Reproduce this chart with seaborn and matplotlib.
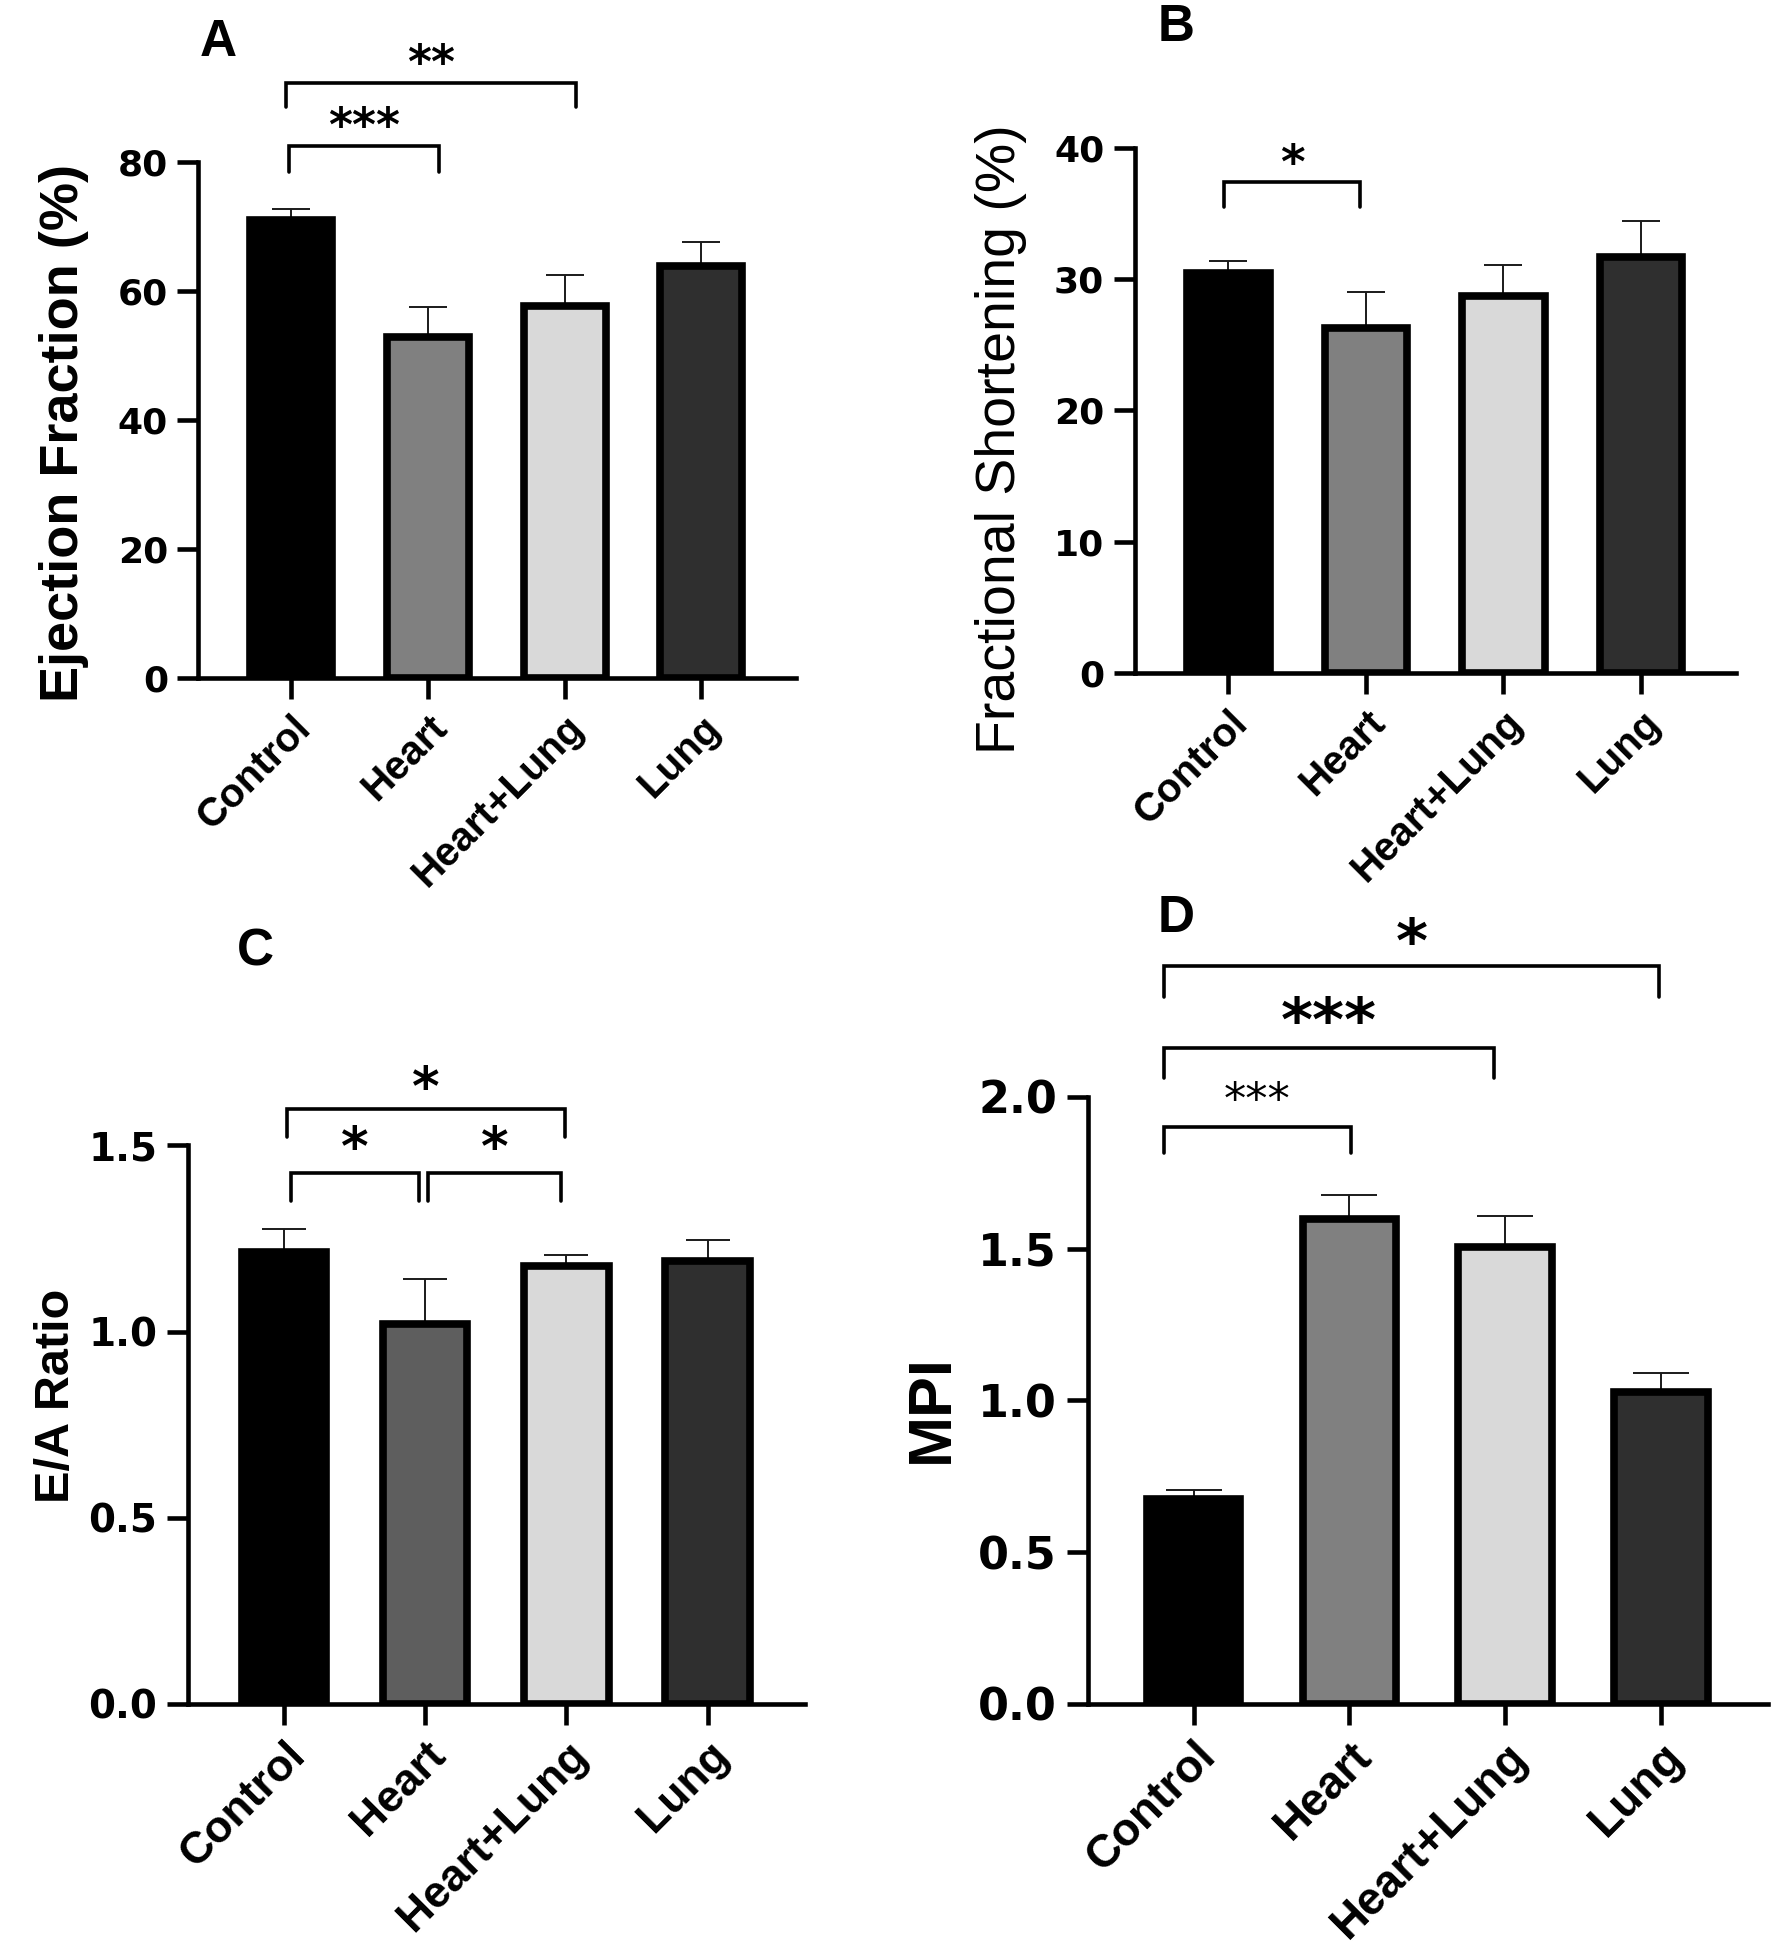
import numpy as np
import matplotlib.pyplot as plt
import seaborn as sns

# group names shared by all four panels
groups = ["Control", "Heart", "Heart+Lung", "Lung"]

# A: ejection fraction (%)
ef_mean = [70.9, 52.8, 57.7, 63.9]
ef_err = [1.7, 4.6, 4.8, 3.7]

# B: fractional shortening (%)
fs_mean = [30.5, 26.3, 28.7, 31.7]
fs_err = [0.9, 2.7, 2.4, 2.7]

# C: E/A ratio
ea_mean = [1.215, 1.02, 1.175, 1.19]
ea_err = [0.06, 0.12, 0.03, 0.055]

# D: MPI
mpi_mean = [0.676, 1.596, 1.506, 1.026]
mpi_err = [0.027, 0.079, 0.102, 0.063]

# significance brackets: (x1, x2, bar height, leg drop, label, label centre)
ef_sig = [(-0.02, 1.08, 82.4, 4.0, "***", 87.3),
          (-0.04, 2.08, 92.2, 3.8, "**", 97.1)]
fs_sig = [(-0.03, 0.96, 37.4, 1.9, "*", 39.8)]
ea_sig = [(0.05, 0.96, 1.426, 0.076, "*", 1.53),
          (1.02, 1.96, 1.426, 0.076, "*", 1.53),
          (0.02, 1.99, 1.598, 0.076, "*", 1.69)]
mpi_sig = [(-0.19, 1.01, 1.90, 0.085, "***", 2.03),
           (-0.19, 1.93, 2.162, 0.10, "***", 2.30),
           (-0.19, 2.99, 2.43, 0.10, "*", 2.56)]

grays = ["#000000", "#808080", "#d9d9d9", "#2f2f2f"]
grays_c = ["#000000", "#5e5e5e", "#d9d9d9", "#2f2f2f"]

sns.set_style("ticks")
plt.rcParams["font.family"] = ["Liberation Sans", "DejaVu Sans"]
plt.rcParams["text.color"] = "black"
plt.rcParams["axes.labelcolor"] = "black"
plt.rcParams["xtick.color"] = "black"
plt.rcParams["ytick.color"] = "black"

fig = plt.figure(figsize=(17.72, 19.5), dpi=100)


def bar_panel(rect, means, errs, colors, ylim, yticks, yfmt, ylabel, label_kw,
              sig, star_kw, tick_size, xtick_size, capsize, tick_family):
    ax = fig.add_axes(rect)
    sns.barplot(x=groups, y=means, hue=groups, palette=colors, legend=False,
                width=0.6, edgecolor="black", linewidth=5.5, errorbar=None,
                ax=ax, zorder=3)
    ax.errorbar(range(len(groups)), means,
                yerr=[np.zeros(len(errs)), errs], fmt="none",
                ecolor="#1a1a1a", elinewidth=1.4, capsize=capsize,
                capthick=1.4, zorder=2)
    ax.set_xlim(-0.68, 3.69)
    ax.set_ylim(*ylim)
    ax.set_yticks(yticks)
    ax.set_yticklabels([yfmt.format(v) for v in yticks], fontsize=tick_size,
                       fontweight="bold", family=tick_family)
    ax.set_xticks(range(len(groups)))
    ax.set_xticklabels(groups, rotation=45, ha="right", rotation_mode="anchor",
                       fontsize=xtick_size, fontweight="bold")
    ax.tick_params(axis="both", length=15, width=3.3, pad=7, color="black",
                   labelcolor="black")
    sns.despine(ax=ax)
    for side in ["left", "bottom"]:
        ax.spines[side].set_linewidth(3.3)
        ax.spines[side].set_color("black")
    ax.set_xlabel("")
    ax.set_ylabel(ylabel["text"], fontsize=ylabel["size"],
                  fontweight=ylabel["weight"], va="center", color="black")
    ax.yaxis.set_label_coords(ylabel["x"], ylabel["y"])

    for i, (x1, x2, y, drop, txt, ty) in enumerate(sig):
        ax.plot([x1, x1, x2, x2], [y - drop, y, y, y - drop], color="black",
                lw=2.6, clip_on=False, solid_joinstyle="miter")
        kw = star_kw[i]
        ax.annotate(txt, (np.mean([x1, x2]), ty),
                    xytext=(0, -0.58 * kw["size"]), textcoords="offset points",
                    ha="center", va="baseline", fontsize=kw["size"],
                    fontweight=kw["weight"], family=kw["family"],
                    color="black", annotation_clip=False)

    fig.text(label_kw["x"], label_kw["y"], label_kw["text"], fontsize=37,
             fontweight="bold", ha="center", va="center", color="black")
    return ax


bar_panel([0.112, 0.6524, 0.337, 0.2647], ef_mean, ef_err, grays, (0, 80),
          [0, 20, 40, 60, 80], "{:.0f}",
          dict(text="Ejection Fraction (%)", size=39, weight="bold", x=-0.225, y=0.475),
          dict(text="A", x=0.123, y=0.978), ef_sig,
          [dict(size=33, weight="bold", family="DejaVu Sans")] * 2,
          26, 29, 14, "DejaVu Sans")

bar_panel([0.6404, 0.655, 0.3392, 0.2691], fs_mean, fs_err, grays, (0, 40),
          [0, 10, 20, 30, 40], "{:.0f}",
          dict(text="Fractional Shortening (%)", size=40, weight="normal", x=-0.222, y=0.445),
          dict(text="B", x=0.664, y=0.986), fs_sig,
          [dict(size=34, weight="bold", family="DejaVu Sans")],
          26, 29, 14, "DejaVu Sans")

bar_panel([0.106, 0.1263, 0.3483, 0.2863], ea_mean, ea_err, grays_c, (0, 1.5),
          [0.0, 0.5, 1.0, 1.5], "{:.1f}",
          dict(text="E/A Ratio", size=35, weight="bold", x=-0.213, y=0.552),
          dict(text="C", x=0.144, y=0.512), ea_sig,
          [dict(size=38, weight="bold", family="DejaVu Sans")] * 3,
          28, 32, 16, "DejaVu Sans")

bar_panel([0.6138, 0.1263, 0.3841, 0.3112], mpi_mean, mpi_err, grays, (0, 2.0),
          [0.0, 0.5, 1.0, 1.5, 2.0], "{:.1f}",
          dict(text="MPI", size=44, weight="bold", x=-0.228, y=0.486),
          dict(text="D", x=0.664, y=0.529), mpi_sig,
          [dict(size=32, weight="normal", family="DejaVu Sans"),
           dict(size=44, weight="bold", family="DejaVu Sans"),
           dict(size=44, weight="bold", family="DejaVu Sans")],
          32, 33, 20, "DejaVu Sans")

fig.savefig("out.png", dpi=100)
